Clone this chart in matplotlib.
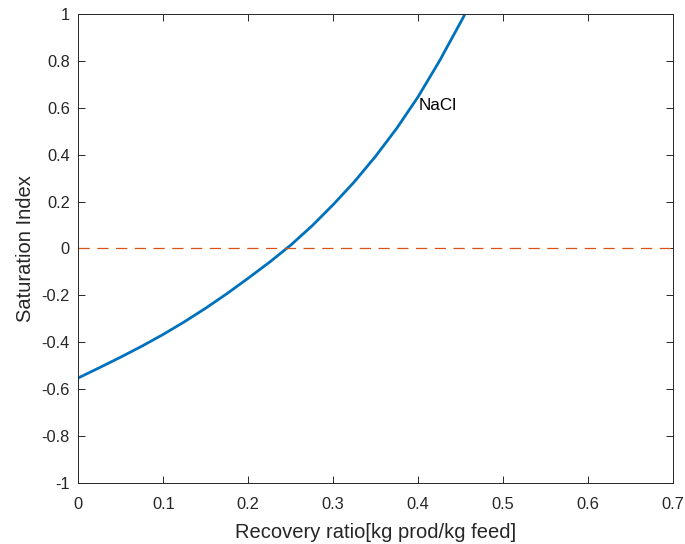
import numpy as np
import matplotlib
matplotlib.use('Agg')
import matplotlib.pyplot as plt
import matplotlib.ticker as tkr

plt.rcParams['font.family'] = ['Liberation Sans', 'DejaVu Sans']
plt.rcParams['axes.unicode_minus'] = False

# recovery ratio vs saturation index
recovery = [0.000, 0.025, 0.050, 0.075, 0.100, 0.125, 0.150, 0.175, 0.200,
            0.225, 0.250, 0.275, 0.300, 0.325, 0.350, 0.375, 0.400, 0.425,
            0.450, 0.455]
sat_index = [-0.553, -0.509, -0.464, -0.417, -0.367, -0.313, -0.255, -0.193, -0.127,
             -0.059, 0.014, 0.096, 0.187, 0.285, 0.394, 0.514, 0.648, 0.800,
             0.966, 1.000]
xlim = [0, 0.7]
ylim = [-1, 1]
label = 'NaCl'
label_pos = (0.401, 0.61)

ax_col = '#262626'
fs = 11.8

fig = plt.figure(figsize=(6.85, 5.44), dpi=100)
ax = fig.add_axes([0.1143, 0.1129, 0.8682, 0.8608])

ax.plot(recovery, sat_index, color='#0072BD', linewidth=2.0,
        solid_joinstyle='round', solid_capstyle='butt')
ax.plot(xlim, [0, 0], color='#D95319', linewidth=0.9, dashes=(9, 6))
ax.text(label_pos[0], label_pos[1], label, fontsize=12.3, color='black',
        ha='left', va='center')

ax.set_xlim(xlim)
ax.set_ylim(ylim)
ax.set_xticks(np.arange(0, 0.71, 0.1))
ax.set_yticks(np.arange(-1, 1.01, 0.2))
fmt = tkr.FuncFormatter(lambda v, pos: '%g' % (round(v, 2) + 0.0))
ax.xaxis.set_major_formatter(fmt)
ax.yaxis.set_major_formatter(fmt)

ax.tick_params(direction='in', length=5, width=0.7, colors=ax_col,
               labelsize=fs, top=True, right=True, pad=6)
ax.tick_params(axis='x', pad=10.5)
for s in ax.spines.values():
    s.set_color(ax_col)
    s.set_linewidth(0.7)

ax.set_xlabel('Recovery ratio[kg prod/kg feed]', fontsize=14.5, color=ax_col, labelpad=8)
ax.set_ylabel('Saturation Index', fontsize=14.5, color=ax_col, labelpad=5)

fig.savefig('out.png', dpi=100)
